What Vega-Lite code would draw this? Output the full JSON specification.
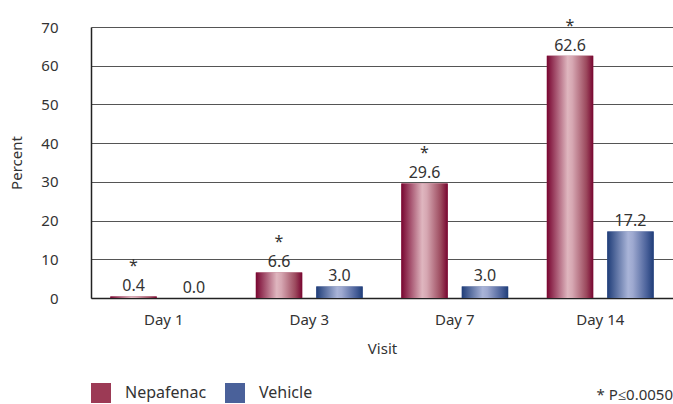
{
  "$schema": "https://vega.github.io/schema/vega-lite/v6.json",
  "width": 582,
  "height": 271,
  "autosize": {"type": "none"},
  "padding": {"left": 91, "top": 27, "right": 0, "bottom": 106},
  "background": "white",
  "config": {
    "view": {"stroke": null},
    "font": "Noto Sans",
    "text": {"font": "Noto Sans"}
  },
  "title": {
    "text": "* P≤0.0050",
    "orient": "bottom",
    "anchor": "end",
    "fontSize": 15,
    "fontWeight": "normal",
    "color": "#333333",
    "font": "Noto Sans",
    "offset": -15
  },
  "data": {
    "values": [
      {"visit": "Day 1", "series": "Nepafenac", "value": 0.4, "label": "0.4", "sig": "*"},
      {"visit": "Day 1", "series": "Vehicle", "value": 0.0, "label": "0.0", "sig": ""},
      {"visit": "Day 3", "series": "Nepafenac", "value": 6.6, "label": "6.6", "sig": "*"},
      {"visit": "Day 3", "series": "Vehicle", "value": 3.0, "label": "3.0", "sig": ""},
      {"visit": "Day 7", "series": "Nepafenac", "value": 29.6, "label": "29.6", "sig": "*"},
      {"visit": "Day 7", "series": "Vehicle", "value": 3.0, "label": "3.0", "sig": ""},
      {"visit": "Day 14", "series": "Nepafenac", "value": 62.6, "label": "62.6", "sig": "*"},
      {"visit": "Day 14", "series": "Vehicle", "value": 17.2, "label": "17.2", "sig": ""}
    ]
  },
  "encoding": {
    "x": {
      "field": "visit",
      "type": "nominal",
      "sort": ["Day 1", "Day 3", "Day 7", "Day 14"],
      "scale": {"paddingInner": 0, "paddingOuter": 0},
      "axis": {
        "title": "Visit",
        "labelAngle": 0,
        "labelFontSize": 15,
        "labelColor": "#333333",
        "labelPadding": 14,
        "titleFontSize": 15,
        "titleFontWeight": "normal",
        "titleColor": "#333333",
        "titlePadding": 14,
        "ticks": false,
        "domainColor": "#222222",
        "domainWidth": 1.5
      }
    },
    "xOffset": {
      "field": "series",
      "type": "nominal",
      "scale": {"paddingInner": 0.233, "paddingOuter": 0.32}
    },
    "y": {
      "field": "value",
      "type": "quantitative",
      "scale": {"domain": [0, 70], "nice": false},
      "axis": {
        "title": "Percent",
        "values": [0, 10, 20, 30, 40, 50, 60, 70],
        "labelFontSize": 15,
        "labelColor": "#333333",
        "labelPadding": 33,
        "titleFontSize": 15,
        "titleFontWeight": "normal",
        "titleColor": "#333333",
        "titlePadding": 16,
        "ticks": false,
        "grid": true,
        "gridColor": "#555555",
        "gridWidth": 1,
        "domainColor": "#222222",
        "domainWidth": 1.5
      }
    }
  },
  "layer": [
    {
      "mark": {"type": "bar", "strokeWidth": 0},
      "encoding": {
        "color": {
          "field": "series",
          "type": "nominal",
          "scale": {
            "domain": ["Nepafenac", "Vehicle"],
            "range": ["#9c3a55", "#4a619a"]
          },
          "legend": {
            "title": null,
            "orient": "none",
            "legendX": 0,
            "legendY": 356,
            "direction": "horizontal",
            "symbolType": "square",
            "symbolSize": 400,
            "symbolStrokeWidth": 0,
            "labelFontSize": 16,
            "labelColor": "#333333",
            "labelFont": "Noto Sans",
            "labelOffset": 14,
            "columnPadding": 18
          }
        }
      }
    },
    {
      "mark": {"type": "bar", "strokeWidth": 0},
      "encoding": {
        "fill": {
          "condition": {
            "test": "datum.series === 'Nepafenac'",
            "value": {"gradient": "linear", "x1": 0, "y1": 0, "x2": 1, "y2": 0, "stops": [
              {"offset": 0, "color": "#780530"},
              {"offset": 0.45, "color": "#dfb6bf"},
              {"offset": 0.55, "color": "#d6a7b2"},
              {"offset": 0.85, "color": "#9c4a5e"},
              {"offset": 1, "color": "#780530"}
            ]}
          },
          "value": {"gradient": "linear", "x1": 0, "y1": 0, "x2": 1, "y2": 0, "stops": [
            {"offset": 0, "color": "#1f3d78"},
            {"offset": 0.45, "color": "#a9b4d8"},
            {"offset": 0.55, "color": "#9ea9d0"},
            {"offset": 0.85, "color": "#4a619a"},
            {"offset": 1, "color": "#1f3d78"}
          ]}
        }
      }
    },
    {
      "mark": {"type": "text", "baseline": "alphabetic", "dy": -5, "fontSize": 16, "color": "#333333"},
      "encoding": {"text": {"field": "label"}}
    },
    {
      "mark": {"type": "text", "baseline": "alphabetic", "dy": -25, "fontSize": 16, "color": "#333333"},
      "encoding": {"text": {"field": "sig"}}
    }
  ]
}
